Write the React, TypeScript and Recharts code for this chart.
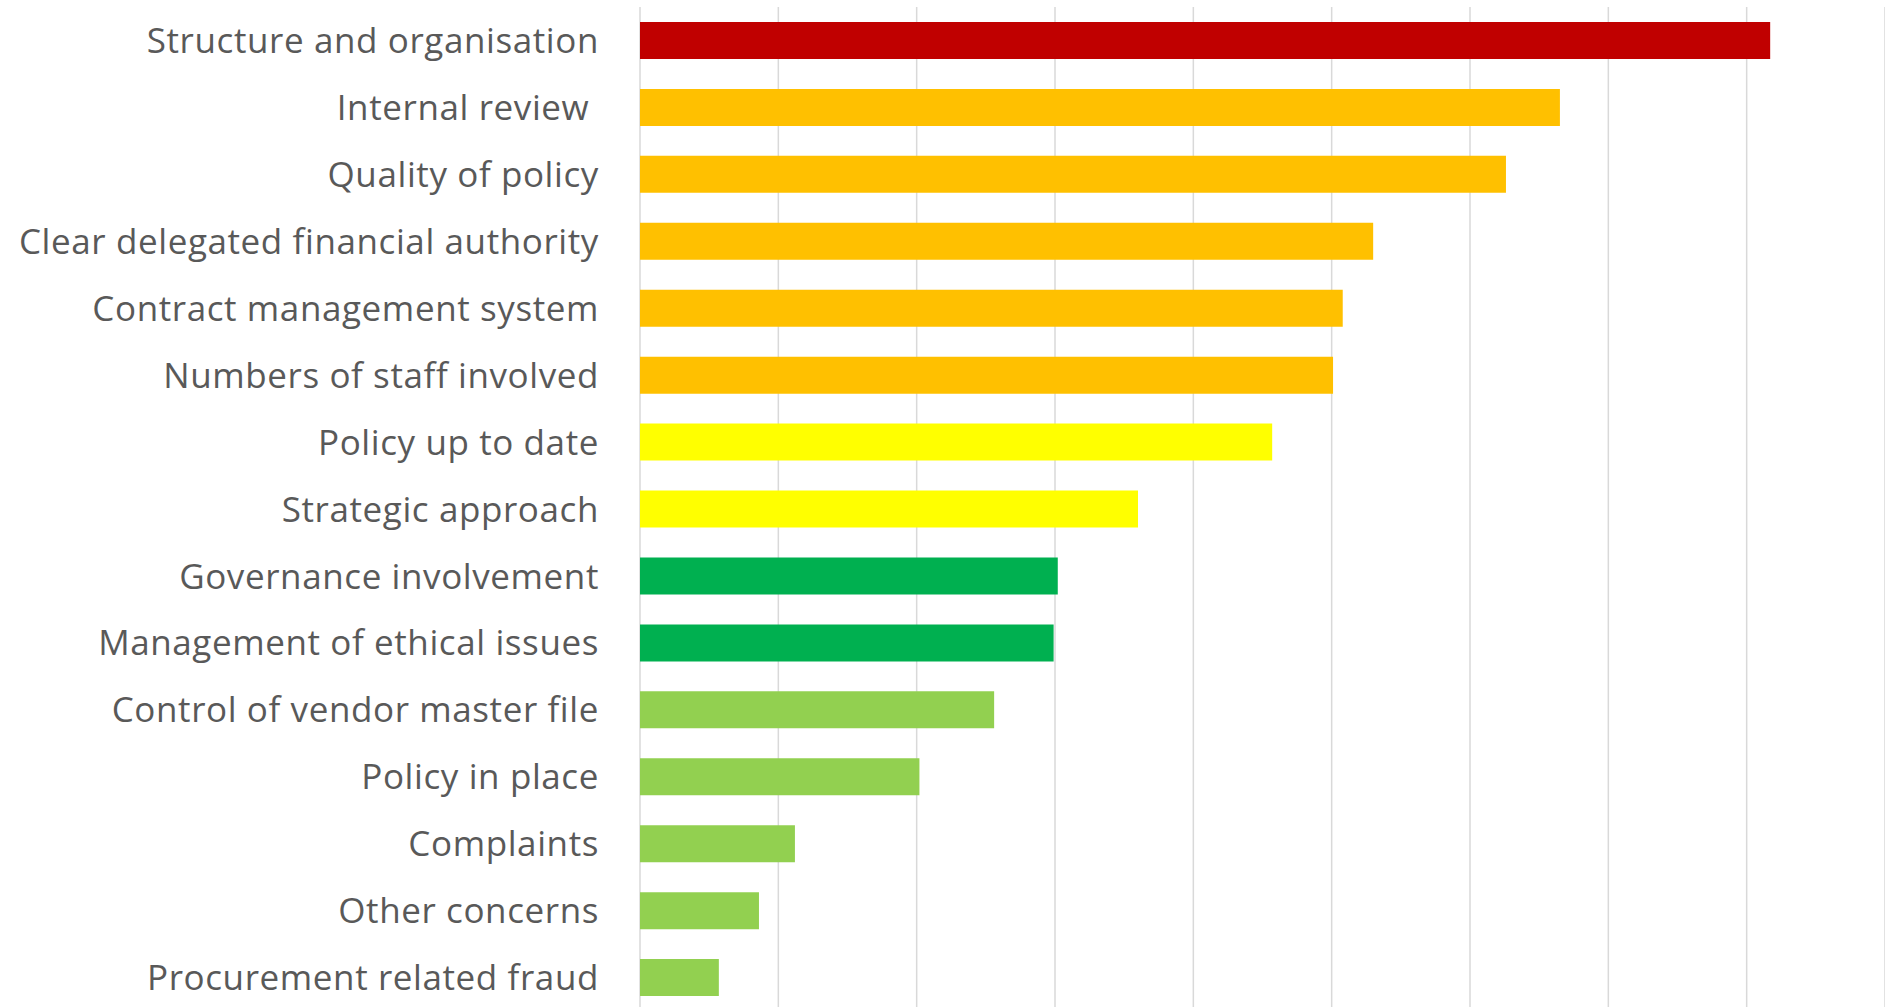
import React from "react";
import { BarChart, Bar, XAxis, YAxis, CartesianGrid, Cell } from "recharts";

const categories = [
    "Structure and organisation",
    "Internal review ",
    "Quality of policy",
    "Clear delegated financial authority",
    "Contract management system",
    "Numbers of staff involved",
    "Policy up to date",
    "Strategic approach",
    "Governance involvement",
    "Management of ethical issues",
    "Control of vendor master file",
    "Policy in place",
    "Complaints",
    "Other concerns",
    "Procurement related fraud",
];

const scores = [8.17, 6.65, 6.26, 5.3, 5.08, 5.01, 4.57, 3.6, 3.02, 2.99, 2.56, 2.02, 1.12, 0.86, 0.57];

const barColors = [
    "#C00000",
    "#FFC000",
    "#FFC000",
    "#FFC000",
    "#FFC000",
    "#FFC000",
    "#FFFF00",
    "#FFFF00",
    "#00B050",
    "#00B050",
    "#92D050",
    "#92D050",
    "#92D050",
    "#92D050",
    "#92D050",
];

const xTicks = [0, 1, 2, 3, 4, 5, 6, 7, 8];

const data = categories.map((name, i) => ({ name, value: scores[i] }));

const LabelTick = (props: any) => {
    const { x, y, payload } = props;
    return (
        <text
            x={x - 33}
            y={y}
            dy="0.36em"
            textAnchor="end"
            fill="#595959"
            fontFamily="'Open Sans', Lato, sans-serif"
            fontSize={35}
            letterSpacing={0.6}
            style={{ whiteSpace: "pre" }}
        >
            {payload.value}
        </text>
    );
};

export default function App() {
    return (
        <div
            style={{
                position: "absolute",
                top: 0,
                left: 0,
                width: 1885,
                height: 1007,
                overflow: "hidden",
                background: "#fff",
            }}
        >
            <BarChart
                width={1885}
                height={1011}
                data={data}
                layout="vertical"
                margin={{ top: 7, right: 0, bottom: 0, left: 0 }}
                barSize={37}
            >
                <CartesianGrid horizontal={false} stroke="#D9D9D9" strokeWidth={1.5} />
                <XAxis type="number" domain={[0, 9]} ticks={xTicks} hide />
                <YAxis
                    type="category"
                    dataKey="name"
                    width={640}
                    axisLine={false}
                    tickLine={false}
                    tick={<LabelTick />}
                    interval={0}
                />
                <Bar dataKey="value" isAnimationActive={false}>
                    {data.map((entry, index) => (
                        <Cell key={`cell-${index}`} fill={barColors[index]} />
                    ))}
                </Bar>
            </BarChart>
        </div>
    );
}
